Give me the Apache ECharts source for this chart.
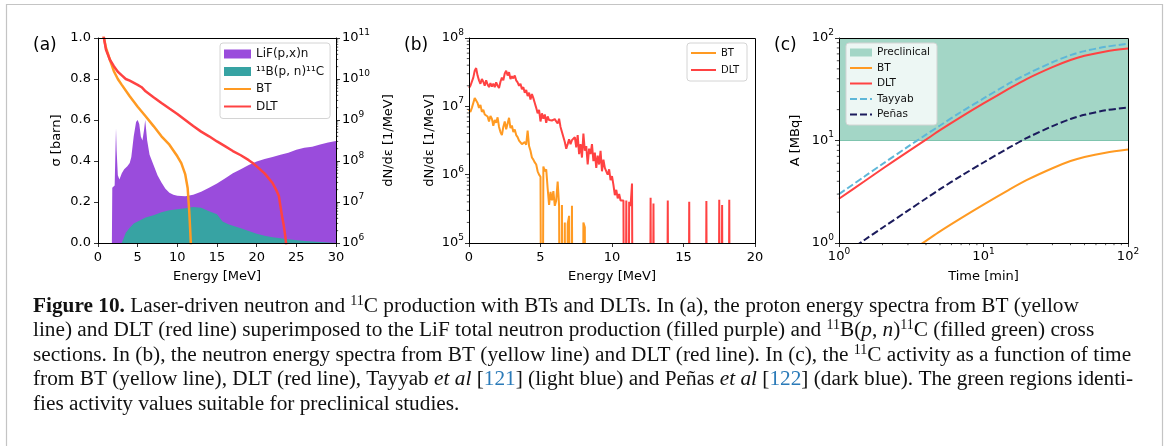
<!DOCTYPE html>
<html>
<head>
<meta charset="utf-8">
<script src="https://cdn.jsdelivr.net/npm/echarts@6/dist/echarts.min.js"></script>
<style>
html, body { margin: 0; padding: 0; background: #fff; }
#chart { width: 1167px; height: 446px; }
</style>
</head>
<body>
<div id="chart"></div>
<script>
// ---- data ----
// (a) cross sections [MeV, barn]
var lifCross = [[1.75,0],[1.8,0.27],[2.1,0.28],[2.2,0.45],[2.27,0.56],[2.35,0.45],[2.5,0.33],[2.7,0.31],[3.0,0.34],
    [3.3,0.36],[3.7,0.375],[4.0,0.39],[4.2,0.42],[4.5,0.52],[4.8,0.59],[5.0,0.60],[5.2,0.58],[5.4,0.52],[5.6,0.50],
    [5.8,0.55],[5.95,0.60],[6.05,0.60],[6.2,0.50],[6.5,0.43],[7,0.38],[7.5,0.33],[8,0.295],[8.5,0.265],[9,0.245],
    [9.5,0.235],[10,0.23],[11,0.228],[12,0.235],[13,0.25],[14,0.27],[15,0.29],[16,0.315],[17,0.34],[18,0.36],
    [19,0.38],[20,0.398],[21,0.41],[22,0.42],[23,0.43],[24,0.44],[25,0.455],[26,0.465],[27,0.47],[28,0.48],
    [29,0.49],[30,0.497]];
var boronCross = [[3.0,0],[3.5,0.05],[4,0.075],[4.5,0.095],[5,0.105],[5.5,0.115],[6,0.125],[7,0.135],[8,0.15],
    [9,0.16],[10,0.165],[11,0.17],[12,0.176],[13,0.172],[14,0.155],[15,0.14],[15.7,0.105],[16.5,0.09],[18,0.072],
    [19,0.058],[20,0.045],[21,0.035],[22,0.028],[24,0.018],[26,0.01],[28,0.005],[30,0.002]];
// (a) proton spectra [MeV, 1/MeV]
var btProton = [[0.6,1.3e11],[0.75,1.0e11],[1.0,5.8e10],[1.5,2.95e10],[2.0,1.55e10],[2.5,1.0e10],[3.0,7.2e9],
    [4.0,3.8e9],[5.0,2.1e9],[6.0,1.23e9],[7.0,7.1e8],[8.0,4.0e8],[9.0,2.5e8],[10.0,1.3e8],[10.5,8.9e7],
    [11.0,4.7e7],[11.3,2.2e7],[11.5,6e6],[11.6,2.5e6],[11.7,1e6],[11.75,5e5]];
var dltProton = [[0.6,1.3e11],[0.75,1.0e11],[1.0,5.2e10],[1.5,2.95e10],[2.0,2.05e10],[2.5,1.5e10],[3.0,1.23e10],
    [3.5,1.0e10],[4.0,9.1e9],[5.0,7.2e9],[5.5,6.3e9],[6.0,5.0e9],[7.0,3.6e9],[8.0,2.6e9],[9.0,1.9e9],[10.0,1.4e9],
    [11.0,1.0e9],[12.0,7.1e8],[13.0,5.2e8],[14.0,4.0e8],[15.0,3.0e8],[16.0,2.3e8],[17.0,1.75e8],[18.0,1.38e8],
    [19.0,1.05e8],[19.5,8.9e7],[20.0,7.4e7],[21.0,5.0e7],[22.0,2.9e7],[22.5,1.9e7],[22.8,1.4e7],[23.0,7.8e6],
    [23.2,4.5e6],[23.4,2.8e6],[23.6,1.5e6],[23.7,1.0e6],[23.75,5e5]];
// (b) neutron spectra [MeV, 1/MeV]; empty bins written as 1
var btNeutron = [[0.0,8.9e6],[0.1,8.3e6],[0.2,9.5e6],[0.3,1.12e7],[0.4,1.32e7],[0.5,1.41e7],[0.6,1.12e7],[0.7,9.5e6],
    [0.8,1.05e7],[0.9,8.3e6],[1.0,8.9e6],[1.1,7.6e6],[1.2,7.9e6],[1.3,7.1e6],[1.4,6.0e6],[1.5,7.2e6],[1.6,6.6e6],
    [1.7,5.2e6],[1.8,6.3e6],[1.9,5.75e6],[2.0,6.9e6],[2.1,5.0e6],[2.2,4.2e6],[2.3,3.8e6],[2.4,5.0e6],[2.5,6.0e6],
    [2.6,4.6e6],[2.7,5.6e6],[2.8,6.8e6],[2.9,4.8e6],[3.0,5.25e6],[3.1,4.2e6],[3.2,4.6e6],[3.3,3.8e6],[3.4,3.55e6],
    [3.5,3.16e6],[3.6,3.3e6],[3.7,2.8e6],[3.8,2.63e6],[3.9,3.0e6],[4.0,2.75e6],[4.1,4.4e6],[4.2,2.63e6],[4.3,2.24e6],
    [4.4,1.78e6],[4.5,1.66e6],[4.6,1.51e6],[4.7,1.41e6],[4.8,1.12e6],[4.9,1.0e6],[5.0,9.3e5],[5.1,1],[5.2,1.32e6],
    [5.3,1.12e6],[5.4,1.2e6],[5.5,6.3e5],[5.6,3.6e5],[5.7,5.6e5],[5.8,4.2e5],[5.9,5.75e5],[6.0,3.5e5],[6.1,4.2e5],
    [6.2,7.9e5],[6.3,3.5e5],[6.4,1],[6.5,3.6e5],[6.6,1],[6.7,2.0e5],[6.8,1],[6.9,1.9e5],[7.0,2.5e5],[7.1,1],
    [7.2,3.5e5],[7.3,1],[7.9,1],[8.0,2.0e5],[8.1,1.7e5],[8.2,1]];
var dltNeutron = [[0.0,1.86e7],[0.1,2.0e7],[0.2,1.9e7],[0.3,2.63e7],[0.4,3.31e7],[0.5,3.63e7],[0.6,2.82e7],[0.7,2.4e7],
    [0.8,2.14e7],[0.9,2.51e7],[1.0,2.29e7],[1.1,2.0e7],[1.2,2.4e7],[1.3,2.09e7],[1.4,1.91e7],[1.5,2.19e7],[1.6,1.95e7],
    [1.7,2.14e7],[1.8,1.91e7],[1.9,2.24e7],[2.0,2.0e7],[2.1,1.86e7],[2.2,2.29e7],[2.3,2.63e7],[2.4,2.4e7],[2.5,3.02e7],
    [2.6,3.31e7],[2.7,2.82e7],[2.8,3.16e7],[2.9,2.51e7],[3.0,2.75e7],[3.1,2.57e7],[3.2,2.82e7],[3.3,2.4e7],[3.4,2.24e7],
    [3.5,2.0e7],[3.6,2.14e7],[3.7,1.78e7],[3.8,1.91e7],[3.9,1.58e7],[4.0,1.74e7],[4.1,1.41e7],[4.2,1.58e7],[4.3,1.26e7],
    [4.4,1.51e7],[4.5,1.32e7],[4.6,1.12e7],[4.7,9.5e6],[4.8,7.9e6],[4.9,8.9e6],[5.0,6.0e6],[5.1,7.9e6],[5.2,6.6e6],
    [5.3,7.6e6],[5.4,5.75e6],[5.5,7.1e6],[5.6,6.3e6],[5.7,6.6e6],[5.8,6.2e6],[5.9,6.3e6],[6.0,6.5e6],[6.1,6.0e6],
    [6.2,5.6e6],[6.3,6.6e6],[6.4,5.0e6],[6.5,4.2e6],[6.6,3.55e6],[6.7,3.0e6],[6.8,2.4e6],[6.9,2.8e6],[7.0,3.3e6],
    [7.1,2.8e6],[7.2,3.2e6],[7.3,3.0e6],[7.4,3.55e6],[7.5,2.5e6],[7.6,3.8e6],[7.7,2.0e6],[7.8,2.8e6],[7.9,1.78e6],
    [8.0,4.0e6],[8.1,2.24e6],[8.2,2.63e6],[8.3,1.41e6],[8.4,2.4e6],[8.5,2.0e6],[8.6,2.8e6],[8.7,1.58e6],[8.8,2.1e6],
    [8.9,1.26e6],[9.0,1.9e6],[9.1,1.41e6],[9.2,2.24e6],[9.3,1.12e6],[9.4,1.66e6],[9.5,1.26e6],[9.6,1.12e6],[9.7,1.0e6],
    [9.8,1.2e6],[9.9,8.3e5],[10.0,9.5e5],[10.1,7.1e5],[10.2,5.0e5],[10.3,6.0e5],[10.4,4.5e5],[10.5,5.2e5],[10.6,4.2e5],
    [10.7,4.0e5],[10.8,4.2e5],[10.9,1],[11.0,4.2e5],[11.1,1],[11.2,4.0e5],[11.3,3.5e5],[11.4,7.4e5],[11.5,1],[12.6,1],
    [12.7,4.6e5],[12.8,1],[12.9,3.8e5],[13.0,1],[13.8,1],[13.9,4.2e5],[14.0,1],[15.3,1],[15.4,4.0e5],[15.5,1],[16.5,1],
    [16.6,4.1e5],[16.7,1],[17.4,1],[17.5,4.3e5],[17.6,1],[17.7,3.6e5],[17.8,1],[18.1,1],[18.2,4.3e5],[18.3,1]];
// (c) activity [min] -> [MBq]
var timeMin   = [1, 1.5, 2, 3, 4, 5, 7, 10, 15, 20, 30, 40, 50, 70, 100];
var actBT     = [0.28, 0.41, 0.55, 0.80, 1.05, 1.30, 1.75, 2.37, 3.3, 4.12, 5.36, 6.3, 6.9, 7.6, 8.15];
var actDLT    = [2.7, 4.0, 5.3, 7.8, 10.2, 12.6, 17.0, 23.0, 32, 40, 52, 61, 67, 74, 79];
var actTayyab = [3.0, 4.45, 5.9, 8.7, 11.4, 14.0, 19.0, 25.7, 36, 44.5, 58, 68, 74.5, 82, 88];
var actPenas  = [0.72, 1.07, 1.41, 2.07, 2.72, 3.35, 4.52, 6.1, 8.5, 10.6, 13.8, 16.2, 17.8, 19.7, 21.0];
var preclinical = [10, 100];
var minorMant = [2, 3, 4, 5, 6, 7, 8, 9];

var captionLines = [
    '{b|Figure 10.} Laser-driven neutron and {s|11}C production with BTs and DLTs. In (a), the proton energy spectra from BT (yellow',
    'line) and DLT (red line) superimposed to the LiF total neutron production (filled purple) and {s|11}B({i|p}, {i|n}){s|11}C (filled green) cross',
    'sections. In (b), the neutron energy spectra from BT (yellow line) and DLT (red line). In (c), the {s|11}C activity as a function of time',
    'from BT (yellow line), DLT (red line), Tayyab {i|et al} [{u|121}] (light blue) and Pe\u00f1as {i|et al} [{u|122}] (dark blue). The green regions identi-',
    'fies activity values suitable for preclinical studies.'
];

// ---- styling ----
var FONT = 'DejaVu Sans';
var SERIF = 'Liberation Serif';
var CAP = 21.3;
var PURPLE = '#9a4cdc', TEAL = '#37a3a3', ORANGE = '#ff9a22', RED = '#ff4242';
var BAND = '#a3d6c6', SKY = '#5eb7d8', NAVY = '#1b1b5c';
var grids = [
    {left: 98, top: 38, width: 238, height: 205},
    {left: 469, top: 38, width: 286, height: 205},
    {left: 839, top: 38, width: 289, height: 205}
];

var chart = echarts.init(document.getElementById('chart'));

function zip(xs, ys) {
    return xs.map(function (x, i) { return [x, ys[i]]; });
}
function decades(d0, d1) {
    var out = [];
    for (var d = d0; d < d1; d++) {
        minorMant.forEach(function (m) { out.push(m * Math.pow(10, d)); });
    }
    return out;
}
function logLabel(v) {
    return '{b|10}{s|' + Math.round(Math.log10(v)) + '}';
}
var logRich = {
    b: {fontFamily: FONT, fontSize: 13, lineHeight: 20, color: '#000'},
    s: {fontFamily: FONT, fontSize: 9, lineHeight: 11, verticalAlign: 'top', color: '#000'}
};

function axis(extra) {
    var base = {
        nameLocation: 'middle',
        nameMoveOverlap: false,
        nameTextStyle: {fontFamily: FONT, fontSize: 13, color: '#000'},
        axisLine: {show: true, onZero: false, lineStyle: {color: '#000', width: 1}},
        axisTick: {show: true, length: 4, lineStyle: {color: '#000', width: 0.8}},
        axisLabel: {fontFamily: FONT, fontSize: 13, color: '#000', margin: 7, showMinLabel: true, showMaxLabel: true},
        splitLine: {show: false},
        minorTick: {show: false}
    };
    for (var k in extra) {
        if (k === 'axisLabel') {
            for (var j in extra.axisLabel) base.axisLabel[j] = extra.axisLabel[j];
        } else {
            base[k] = extra[k];
        }
    }
    return base;
}

// minor ticks of the log axes, placed through the axes' own scales
function minorTicks(xIdx, yIdx, pts, dir) {
    return {
        type: 'custom', xAxisIndex: xIdx, yAxisIndex: yIdx, silent: true, clip: false, z: 30,
        data: pts,
        renderItem: function (params, api) {
            var p = api.coord([api.value(0), api.value(1)]);
            var d = dir === 'left' ? [-2.2, 0] : dir === 'right' ? [2.2, 0] : [0, 2.2];
            return {
                type: 'line',
                shape: {x1: p[0], y1: p[1], x2: p[0] + d[0], y2: p[1] + d[1]},
                style: {stroke: '#000', lineWidth: 0.7}
            };
        }
    };
}

function legend(extra) {
    var l = {
        orient: 'vertical',
        selectedMode: false,
        backgroundColor: 'rgba(255,255,255,0.8)',
        borderColor: '#d4d4d4',
        borderWidth: 1,
        borderRadius: 3
    };
    for (var k in extra) l[k] = extra[k];
    return l;
}
// line entries in a legend: hide the symbol, keep the line
function lineItem(name) {
    return {name: name, itemStyle: {opacity: 0}};
}

var graphics = [];
// outer frame of the page crop
graphics.push({type: 'line', shape: {x1: 6, y1: 4.5, x2: 1163, y2: 4.5}, style: {stroke: '#c4c4c4', lineWidth: 1.2}});
graphics.push({type: 'line', shape: {x1: 6.5, y1: 4, x2: 6.5, y2: 446}, style: {stroke: '#c4c4c4', lineWidth: 1.2}});
graphics.push({type: 'line', shape: {x1: 1162.5, y1: 4, x2: 1162.5, y2: 446}, style: {stroke: '#c4c4c4', lineWidth: 1.2}});
// axes frames on top of the fills
grids.forEach(function (g) {
    graphics.push({
        type: 'rect', z: 100, silent: true,
        shape: {x: g.left + 0.5, y: g.top + 0.5, width: g.width, height: g.height},
        style: {fill: null, stroke: '#000', lineWidth: 1}
    });
});
[['(a)', 33], ['(b)', 404], ['(c)', 774]].forEach(function (p) {
    graphics.push({
        type: 'text', x: p[1], y: 46,
        style: {text: p[0], fontFamily: FONT, fontSize: 17, fill: '#000', verticalAlign: 'middle'}
    });
});
var capRich = {
    b: {fontFamily: SERIF, fontSize: CAP, lineHeight: 24, fontWeight: 'bold', fill: '#111'},
    i: {fontFamily: SERIF, fontSize: CAP, lineHeight: 24, fontStyle: 'italic', fill: '#111'},
    u: {fontFamily: SERIF, fontSize: CAP, lineHeight: 24, fill: '#2a7ab8'},
    s: {fontFamily: SERIF, fontSize: 14, lineHeight: 16, verticalAlign: 'top', fill: '#111'}
};
captionLines.forEach(function (t, i) {
    graphics.push({
        type: 'text', x: 33, y: 306 + i * 24.5,
        style: {text: t, fontFamily: SERIF, fontSize: CAP, lineHeight: 24, fill: '#111', verticalAlign: 'middle', rich: capRich}
    });
});

option = {
    animation: false,
    backgroundColor: '#fff',
    grid: grids.map(function (g) {
        return {left: g.left, top: g.top, width: g.width, height: g.height, outerBoundsMode: 'none', containLabel: false};
    }),
    xAxis: [
        axis({gridIndex: 0, type: 'value', min: 0, max: 30, interval: 5, name: 'Energy [MeV]', nameGap: 27,
            axisLabel: {margin: 8}}),
        axis({gridIndex: 1, type: 'value', min: 0, max: 20, interval: 5, name: 'Energy [MeV]', nameGap: 27,
            axisLabel: {margin: 8}}),
        axis({gridIndex: 2, type: 'log', logBase: 10, min: 1, max: 100, name: 'Time [min]', nameGap: 27,
            axisLabel: {formatter: logLabel, rich: logRich, margin: 4}})
    ],
    yAxis: [
        axis({gridIndex: 0, type: 'value', min: 0, max: 1, interval: 0.2, name: '\u03c3 [barn]', nameGap: 35,
            axisLabel: {formatter: function (v) { return v.toFixed(1); }}}),
        axis({gridIndex: 0, type: 'log', logBase: 10, min: 1e6, max: 1e11, position: 'right',
            name: 'dN/d\u03b5 [1/MeV]', nameGap: 46, axisLabel: {formatter: logLabel, rich: logRich, margin: 6}}),
        axis({gridIndex: 1, type: 'log', logBase: 10, min: 1e5, max: 1e8, name: 'dN/d\u03b5 [1/MeV]', nameGap: 33,
            axisLabel: {formatter: logLabel, rich: logRich, margin: 5}}),
        axis({gridIndex: 2, type: 'log', logBase: 10, min: 1, max: 100, name: 'A [MBq]', nameGap: 37,
            axisLabel: {formatter: logLabel, rich: logRich, margin: 5}})
    ],
    legend: [
        legend({left: 220, top: 43, padding: [5, 6, 6, 3], itemWidth: 27, itemHeight: 9, itemGap: 5.5,
            textStyle: {fontFamily: FONT, fontSize: 12, color: '#111'},
            data: [{name: 'LiF(p,x)n', icon: 'rect'}, {name: '\u00b9\u00b9B(p, n)\u00b9\u00b9C', icon: 'rect'},
                lineItem('BT'), lineItem('DLT')]}),
        legend({left: 687, top: 43, padding: [5, 8, 6, 3], itemWidth: 25, itemHeight: 9, itemGap: 7,
            textStyle: {fontFamily: FONT, fontSize: 10, color: '#111'},
            data: [lineItem('BT'), lineItem('DLT')]}),
        legend({left: 846, top: 43, padding: [4, 7, 5, 3], itemWidth: 22, itemHeight: 8, itemGap: 4.5,
            textStyle: {fontFamily: FONT, fontSize: 10.5, color: '#111'},
            data: [{name: 'Preclinical', icon: 'rect'}, lineItem('BT'), lineItem('DLT'), lineItem('Tayyab'), lineItem('Pe\u00f1as')]})
    ],
    graphic: graphics,
    series: [
        {name: 'LiF(p,x)n', type: 'line', xAxisIndex: 0, yAxisIndex: 0, data: lifCross, symbol: 'none',
            lineStyle: {width: 0, color: PURPLE}, itemStyle: {color: PURPLE}, areaStyle: {color: PURPLE, opacity: 1}, z: 1},
        {name: '\u00b9\u00b9B(p, n)\u00b9\u00b9C', type: 'line', xAxisIndex: 0, yAxisIndex: 0, data: boronCross, symbol: 'none',
            lineStyle: {width: 0, color: TEAL}, itemStyle: {color: TEAL}, areaStyle: {color: TEAL, opacity: 1}, z: 2},
        {name: 'BT', type: 'line', xAxisIndex: 0, yAxisIndex: 1, data: btProton, symbol: 'none',
            lineStyle: {width: 2.5, color: ORANGE}, itemStyle: {color: ORANGE}, z: 3},
        {name: 'DLT', type: 'line', xAxisIndex: 0, yAxisIndex: 1, data: dltProton, symbol: 'none',
            lineStyle: {width: 2.5, color: RED}, itemStyle: {color: RED}, z: 4},

        {name: 'BT', type: 'line', xAxisIndex: 1, yAxisIndex: 2, data: btNeutron, symbol: 'none',
            lineStyle: {width: 2, color: ORANGE}, itemStyle: {color: ORANGE}, z: 3},
        {name: 'DLT', type: 'line', xAxisIndex: 1, yAxisIndex: 2, data: dltNeutron, symbol: 'none',
            lineStyle: {width: 2, color: RED}, itemStyle: {color: RED}, z: 4},

        {name: 'Preclinical', type: 'line', xAxisIndex: 2, yAxisIndex: 3,
            data: [[1, preclinical[0]], [100, preclinical[0]]], symbol: 'none',
            lineStyle: {width: 1, color: '#7fc4ae'}, itemStyle: {color: BAND},
            areaStyle: {color: BAND, opacity: 1, origin: 'end'}, z: 1},
        {name: 'BT', type: 'line', xAxisIndex: 2, yAxisIndex: 3, data: zip(timeMin, actBT), symbol: 'none', smooth: 0.3,
            lineStyle: {width: 2, color: ORANGE}, itemStyle: {color: ORANGE}, z: 3},
        {name: 'DLT', type: 'line', xAxisIndex: 2, yAxisIndex: 3, data: zip(timeMin, actDLT), symbol: 'none', smooth: 0.3,
            lineStyle: {width: 2, color: RED}, itemStyle: {color: RED}, z: 4},
        {name: 'Tayyab', type: 'line', xAxisIndex: 2, yAxisIndex: 3, data: zip(timeMin, actTayyab), symbol: 'none', smooth: 0.3,
            lineStyle: {width: 2, color: SKY, type: [7, 3]}, itemStyle: {color: SKY}, z: 3},
        {name: 'Pe\u00f1as', type: 'line', xAxisIndex: 2, yAxisIndex: 3, data: zip(timeMin, actPenas), symbol: 'none', smooth: 0.3,
            lineStyle: {width: 2, color: NAVY, type: [7, 3]}, itemStyle: {color: NAVY}, z: 3},

        minorTicks(0, 1, decades(6, 11).map(function (v) { return [30, v]; }), 'right'),
        minorTicks(1, 2, decades(5, 8).map(function (v) { return [0, v]; }), 'left'),
        minorTicks(2, 3, decades(0, 2).map(function (v) { return [1, v]; }), 'left'),
        minorTicks(2, 3, decades(0, 2).map(function (v) { return [v, 1]; }), 'down')
    ]
};

chart.setOption(option);
window.onresize = chart.resize;
</script>
</body>
</html>
